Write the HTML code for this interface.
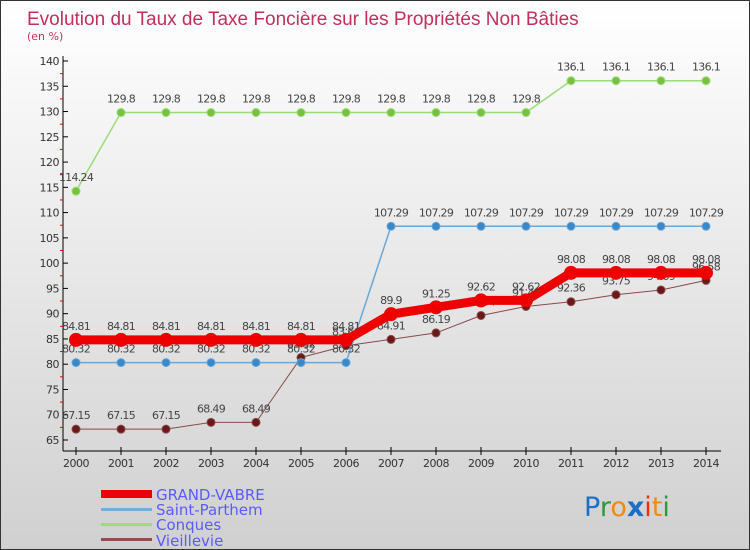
<!DOCTYPE html>
<html><head><meta charset="utf-8"><style>
body{margin:0}
#wrap{width:750px;height:550px;position:relative;overflow:hidden;background:linear-gradient(#ffffff,#d0d0d0);box-sizing:border-box;border:1px solid #333;font-family:"DejaVu Sans","Liberation Sans",sans-serif}
</style></head><body>
<div id="wrap">
<svg id="svg" width="750" height="550" xmlns="http://www.w3.org/2000/svg">
<text x="26" y="24" font-size="19" fill="#c0305a" font-family="'Liberation Sans',sans-serif">Evolution du Taux de Taxe Foncière sur les Propriétés Non Bâties</text>
<text x="26" y="39" font-size="11" fill="#c0305a">(en %)</text>
<g id="axes"></g><g id="series"></g>
<g>
<rect x="100" y="489" width="51" height="8" fill="#ee0000"/>
<text x="155" y="499" font-size="15" fill="#5a5aff">GRAND-VABRE</text>
<rect x="100" y="507" width="51" height="3" fill="#7aaed0"/>
<text x="155" y="514" font-size="15" fill="#5a5aff">Saint-Parthem</text>
<rect x="100" y="522" width="51" height="3" fill="#99dd77"/>
<text x="155" y="529" font-size="15" fill="#5a5aff">Conques</text>
<rect x="100" y="537" width="51" height="3" fill="#8a5050"/>
<text x="155" y="545" font-size="15" fill="#5a5aff">Vieillevie</text>
</g>
<g font-size="27" font-family="'DejaVu Sans',sans-serif">
<text x="583" y="515"><tspan fill="#1a70c8">P</tspan><tspan fill="#2a9a3a">r</tspan><tspan fill="#f08a10">o</tspan><tspan fill="#1a70c8" font-weight="bold">x</tspan><tspan fill="#e83010">i</tspan><tspan fill="#f08a10">t</tspan><tspan fill="#2a9a3a">i</tspan></text>
</g>
</svg></div>
<script>
const years=[2000,2001,2002,2003,2004,2005,2006,2007,2008,2009,2010,2011,2012,2013,2014];
const yTicks=[65,70,75,80,85,90,95,100,105,110,115,120,125,130,135,140];
const grandVabre=[84.81,84.81,84.81,84.81,84.81,84.81,84.81,89.9,91.25,92.62,92.62,98.08,98.08,98.08,98.08];
const saintParthem=[80.32,80.32,80.32,80.32,80.32,80.32,80.32,107.29,107.29,107.29,107.29,107.29,107.29,107.29,107.29];
const conques=[114.24,129.8,129.8,129.8,129.8,129.8,129.8,129.8,129.8,129.8,129.8,136.1,136.1,136.1,136.1];
const vieillevie=[67.15,67.15,67.15,68.49,68.49,81.32,83.66,84.91,86.19,89.64,91.43,92.36,93.75,94.69,96.58];
const NS="http://www.w3.org/2000/svg";
const X=i=>75+i*45;
const Y=v=>439-(v-65)*(379/75);
function mk(t,a,p){const e=document.createElementNS(NS,t);for(const k in a)e.setAttribute(k,a[k]);p.appendChild(e);return e;}
const ax=document.getElementById('axes');
let yl=mk('line',{x1:62,y1:55,x2:62,y2:450,stroke:'#000'},ax);


yTicks.forEach(v=>{
 mk('line',{x1:62,x2:67,y1:Y(v),y2:Y(v),stroke:'#000'},ax);
 if(v<140) mk('line',{x1:59,x2:62,y1:Y(v+2.5),y2:Y(v+2.5),stroke:'#e00'},ax);
 const t=mk('text',{x:58,y:Y(v)+4,'text-anchor':'end','font-size':11,fill:'#333','letter-spacing':'-0.5'},ax);
 t.textContent=v;
 
 
});
let xl=mk('line',{x1:62,y1:450,x2:720,y2:450,stroke:'#000'},ax);


years.forEach((y,i)=>{
 mk('line',{x1:X(i),x2:X(i),y1:446,y2:454,stroke:'#000'},ax);
 const t=mk('text',{x:X(i),y:466,'text-anchor':'middle','font-size':11,fill:'#333','letter-spacing':'-0.5'},ax);
 t.textContent=y;
 
 
});
const sg=document.getElementById('series');
function draw(name,vals,color,w,r,dot){
 const g=mk('g',{},sg);
 
 
 const p=mk('polyline',{points:vals.map((v,i)=>X(i)+','+Y(v)).join(' '),fill:'none',stroke:color,'stroke-width':w,'stroke-linejoin':'round'},g);
 
 
 vals.forEach((v,i)=>{
  const c=mk('circle',{cx:X(i),cy:Y(v),r:r,fill:dot,stroke:color,'stroke-width':1},g);
  
  
  const t=mk('text',{x:X(i),y:Y(v)-10,'text-anchor':'middle','font-size':11,fill:'#444','letter-spacing':'-0.7'},g);
  t.textContent=v;
  
  
 });
}
draw('vieillevie',vieillevie,'#8a4a4a',1,4,'#6a1818');
draw('conques',conques,'#99dd77',1.5,4,'#77c040');
draw('saint-parthem',saintParthem,'#6aa8d8',1.5,4,'#3a88c8');
draw('grand-vabre',grandVabre,'#ee0000',9,6.5,'#ee0000');
</script>
</body></html>
